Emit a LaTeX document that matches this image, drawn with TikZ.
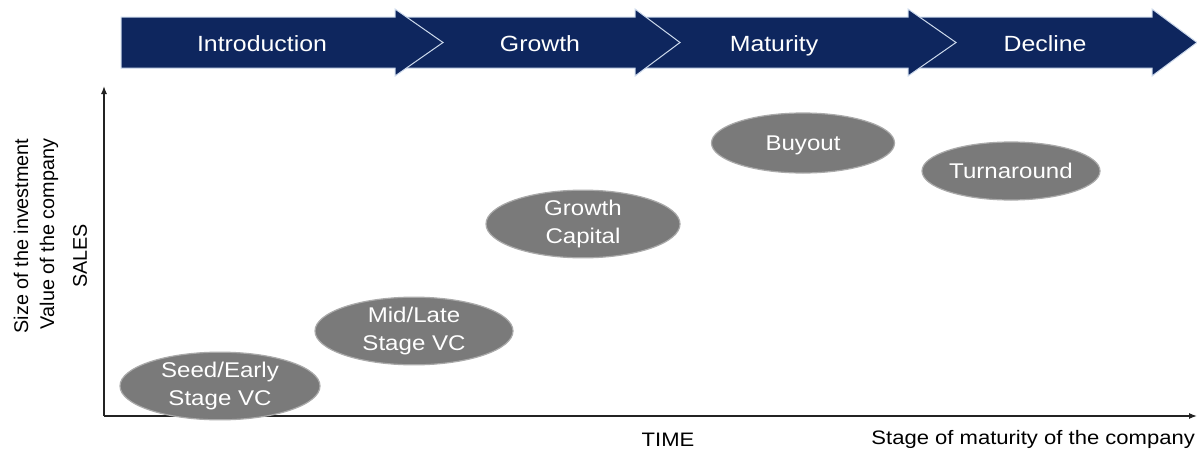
\documentclass[tikz,border=0pt]{standalone}
\usepackage{fontspec}
\setmainfont{Liberation Sans}
\newfontfamily\widesans{Liberation Sans}[FakeStretch=1.13]
\usetikzlibrary{arrows.meta,shapes.geometric}
\definecolor{navy}{RGB}{14,38,94}
\definecolor{chevronline}{RGB}{205,218,236}
\definecolor{stagegray}{RGB}{122,122,122}
\definecolor{stagerim}{RGB}{170,170,170}
\definecolor{axisgray}{RGB}{35,35,35}
\begin{document}
\begin{tikzpicture}[x=1pt,y=-1pt,
  phase/.style={fill=navy,draw=chevronline,line width=1pt,line join=miter},
  phaselabel/.style={text=white,anchor=base,inner sep=0pt,font=\widesans\fontsize{22}{26}\selectfont},
  stage/.style={ellipse,fill=stagegray,draw=stagerim,line width=1.2pt,text=white,
    align=center,inner sep=0pt,font=\widesans\fontsize{21.3}{28}\selectfont},
  oneline/.style={text height=15.3pt,text depth=0pt},
  axis/.style={draw=axisgray,line width=1.3pt,-{Latex[length=8pt,width=6pt]}},
  axislabel/.style={text=black,font=\widesans\fontsize{19.5}{23}\selectfont,inner sep=0pt},
  sidelabel/.style={text=black,font=\fontsize{19.8}{23}\selectfont,inner sep=0pt,rotate=90}]
\useasboundingbox (0,0) rectangle (1197,450);

% life-cycle banner: later phases first, so each head overlaps the next shaft
\foreach \s/\b/\t in {913/1152/1197, 640/908/956, 400/635/680, 121/395/443}
  \draw[phase] (\s,17) -- (\b,17) -- (\b,9) -- (\t,42.5) -- (\b,76) -- (\b,68) -- (\s,68) -- cycle;

\node[phaselabel] (intro) at (262,51) {Introduction};
\node[phaselabel] (growth) at (540,51) {Growth};
\node[phaselabel] (maturity) at (774,51) {Maturity};
\node[phaselabel] (decline) at (1045,51) {Decline};

% axes
\coordinate (origin) at (104,416);
\coordinate (ytop) at (104,86);
\coordinate (xend) at (1197,416);
\draw[axis] (origin) -- (ytop);
\draw[axis] (origin) -- (xend);

\node[axislabel] (time) at (668,440) {TIME};
\node[axislabel,anchor=east] (maturitylabel) at (1195,439) {Stage of maturity of the company};

\node[sidelabel] (size) at (21,236) {Size of the investment};
\node[sidelabel] (value) at (49,234) {Value of the company};
\node[sidelabel] (sales) at (80,256) {SALES};

% financing stages
\node[stage,minimum width=200,minimum height=62] (seed) at (220,386) {Seed/Early\\Stage VC};
\node[stage,minimum width=198,minimum height=62] (mid) at (414,331) {Mid/Late\\Stage VC};
\node[stage,minimum width=194,minimum height=62] (gcap) at (583,224) {Growth\\Capital};
\node[stage,oneline,minimum width=183,minimum height=60] (buyout) at (803,143) {Buyout};
\node[stage,oneline,minimum width=178,minimum height=58] (turn) at (1011,171) {Turnaround};
\end{tikzpicture}
\end{document}
